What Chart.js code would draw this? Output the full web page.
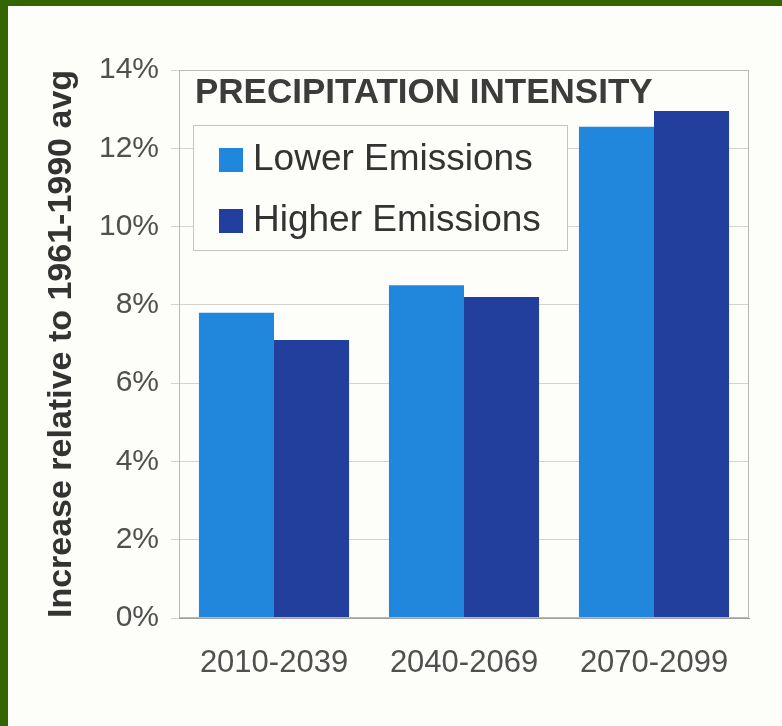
<!DOCTYPE html>
<html>
<head>
<meta charset="utf-8">
<script src="https://cdn.jsdelivr.net/npm/chart.js@4.4.1/dist/chart.umd.min.js"></script>
<style>
  html, body { margin: 0; padding: 0; background: #fdfefa; }
  #frame {
    width: 774px; height: 720px;
    border-top: 6px solid #336600;
    border-left: 8px solid #336600;
    background: #fdfefa;
  }
  canvas { display: block; }
</style>
</head>
<body>
<div id="frame"><canvas id="resultChart" width="774" height="720"></canvas></div>
<script>
const periods = ["2010-2039", "2040-2069", "2070-2099"];
const lowerEmissions = [7.8, 8.5, 12.55];
const higherEmissions = [7.1, 8.2, 12.95];
const yTicks = [0, 2, 4, 6, 8, 10, 12, 14];

const FONT = "'Liberation Sans', Arial, sans-serif";

// title + boxed legend drawn inside the plot, like the original figure
const insideLegend = {
    id: 'insideLegend',
    afterDraw(chart) {
        const ctx = chart.ctx;
        const a = chart.chartArea;
        ctx.save();
        // plot frame
        ctx.strokeStyle = '#b8b8b8';
        ctx.lineWidth = 1;
        ctx.strokeRect(a.left + 0.5, a.top + 0.5, a.right - a.left - 1, a.bottom - a.top - 1);

        ctx.fillStyle = '#3c3c3c';
        ctx.font = "bold 35px " + FONT;
        ctx.textBaseline = 'middle';
        ctx.textAlign = 'left';
        ctx.fillText("PRECIPITATION INTENSITY", a.left + 16, a.top + 23);

        const bx = a.left + 14, by = a.top + 55, bw = 374, bh = 125;
        ctx.fillStyle = '#fdfefa';
        ctx.fillRect(bx, by, bw, bh);
        ctx.strokeStyle = '#c4c4c4';
        ctx.strokeRect(bx + 0.5, by + 0.5, bw, bh);

        ctx.font = "37px " + FONT;
        chart.data.datasets.forEach((ds, i) => {
            const cy = by + 35 + i * 61;
            ctx.fillStyle = ds.backgroundColor;
            ctx.fillRect(bx + 26, cy - 12, 24, 24);
            ctx.fillStyle = '#333333';
            ctx.fillText(ds.label, bx + 60, cy);
        });
        ctx.restore();
    }
};

const ctx = document.getElementById("resultChart").getContext("2d");
const chart = new Chart(ctx, {
    type: 'bar',
    data: {
        labels: periods,
        datasets: [{
            label: 'Lower Emissions',
            data: lowerEmissions,
            backgroundColor: '#2187dd',
            borderWidth: 0
        }, {
            label: 'Higher Emissions',
            data: higherEmissions,
            backgroundColor: '#233f9e',
            borderWidth: 0
        }]
    },
    options: {
        responsive: false,
        animation: false,
        layout: { padding: { top: 64, right: 33, left: 0, bottom: 0 } },
        datasets: { bar: { categoryPercentage: 0.79, barPercentage: 1.0 } },
        plugins: {
            legend: { display: false },
            tooltip: { enabled: false }
        },
        scales: {
            x: {
                grid: { display: false, drawTicks: false },
                border: { display: true, color: '#a0a0a0' },
                ticks: { color: '#505050', font: { family: FONT, size: 31 }, padding: 27 },
                afterFit(scale) { scale.height = 108; }
            },
            y: {
                min: 0,
                max: 14,
                afterBuildTicks(scale) { scale.ticks = yTicks.map(v => ({ value: v })); },
                grid: { color: '#d2d2d2', tickLength: 8 },
                border: { display: true, color: '#a0a0a0' },
                ticks: {
                    color: '#505050',
                    font: { family: FONT, size: 30 },
                    padding: 12,
                    callback: v => v + '%'
                },
                title: {
                    display: true,
                    text: 'Increase relative to 1961-1990 avg',
                    color: '#333333',
                    font: { family: FONT, size: 34, weight: 'bold' },
                    padding: { top: 33, bottom: 0 }
                },
                afterFit(scale) { scale.width = 171; }
            }
        }
    },
    plugins: [insideLegend]
});
</script>
</body>
</html>
